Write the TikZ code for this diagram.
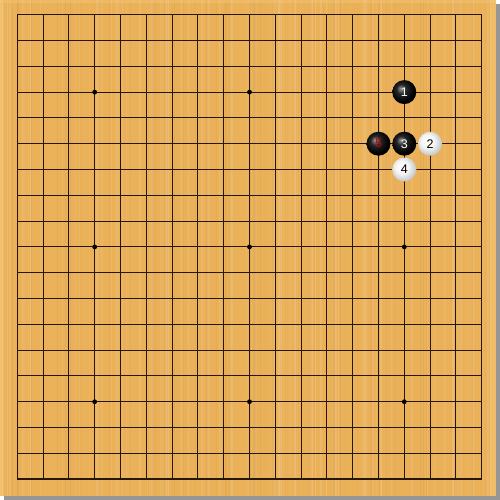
\documentclass[tikz,border=0pt]{standalone}
\usepackage{fontspec}
\setsansfont{Liberation Sans}
\definecolor{wood}{RGB}{234,177,88}
\definecolor{woodlight}{RGB}{245,200,120}
\definecolor{gridcol}{RGB}{40,22,10}
\definecolor{shadowcol}{RGB}{150,150,150}
\pgfdeclareradialshading{bstoneshade}{\pgfpoint{-8bp}{8bp}}{color(0bp)=(black!40!white); color(10bp)=(black!85!white); color(24bp)=(black); color(50bp)=(black)}
\pgfdeclareradialshading{wstoneshade}{\pgfpoint{-7bp}{7bp}}{color(0bp)=(white); color(14bp)=(white!96!black); color(27bp)=(black!22!white); color(32bp)=(black!35!white); color(50bp)=(black!35!white)}
\tikzset{
  gridline/.style={draw=gridcol, line width=1pt},
  gridedge/.style={draw=gridcol, line width=1.4pt},
  starpt/.style={circle, fill=black, inner sep=0pt, minimum size=4.8pt},
  stone/.style={circle, inner sep=0pt, minimum size=24pt, font=\sffamily\fontsize{12.5}{12.5}\selectfont},
  bstone/.style={stone, shading=bstoneshade, text=white},
  wstone/.style={stone, shading=wstoneshade, text=black},
  redtext/.style={text=red!80!black}
}
\begin{document}
\begin{tikzpicture}[x=1pt,y=-1pt]
\useasboundingbox (0,0) rectangle (500,500);
% background, shadow and board
\fill[white] (0,0) rectangle (500,500);
\fill[shadowcol] (4,4) rectangle (500,500);
\fill[wood] (0,0) rectangle (496,496);
% wood grain
\pgfmathsetseed{11}
\foreach \k in {1,...,140} {
  \pgfmathsetmacro{\gx}{rnd*496}
  \pgfmathsetmacro{\go}{0.03+rnd*0.08}
  \pgfmathsetmacro{\gw}{0.5+rnd*1.5}
  \draw[white, opacity=\go, line width=\gw pt] (\gx,0) -- (\gx,496);
}
\foreach \k in {1,...,70} {
  \pgfmathsetmacro{\gx}{rnd*496}
  \pgfmathsetmacro{\go}{0.03+rnd*0.05}
  \draw[brown!70!black, opacity=\go, line width=0.8pt] (\gx,0) -- (\gx,496);
}
% bevel strips
\fill[woodlight, opacity=0.6] (0,0) rectangle (3,496);
\fill[woodlight, opacity=0.4] (0,0) rectangle (496,3);
\fill[woodlight, opacity=0.5] (490,0) rectangle (496,496);
% grid
\foreach \i in {1,...,17} {
  \draw[gridline] ({17.3+25.8*\i},14.7) -- ({17.3+25.8*\i},479.1);
  \draw[gridline] (17.3,{14.7+25.8*\i}) -- (481.7,{14.7+25.8*\i});
}
\draw[gridedge] (17.3,14.7) rectangle (481.7,479.1);
% star points
\foreach \c in {3,9,15} {
  \foreach \r in {3,9,15} {
    \node[starpt] (h\c-\r) at ({17.3+25.8*\c},{14.7+25.8*\r}) {};
  }
}
% stones
\node[bstone] (s1) at ({17.3+25.8*15},{14.7+25.8*3}) {1};
\node[wstone] (s2) at ({17.3+25.8*16},{14.7+25.8*5}) {2};
\node[bstone] (s3) at ({17.3+25.8*15},{14.7+25.8*5}) {3};
\node[wstone] (s4) at ({17.3+25.8*15},{14.7+25.8*6}) {4};
\node[bstone, redtext] (s5) at ({17.3+25.8*14},{14.7+25.8*5}) {5};
\end{tikzpicture}
\end{document}
